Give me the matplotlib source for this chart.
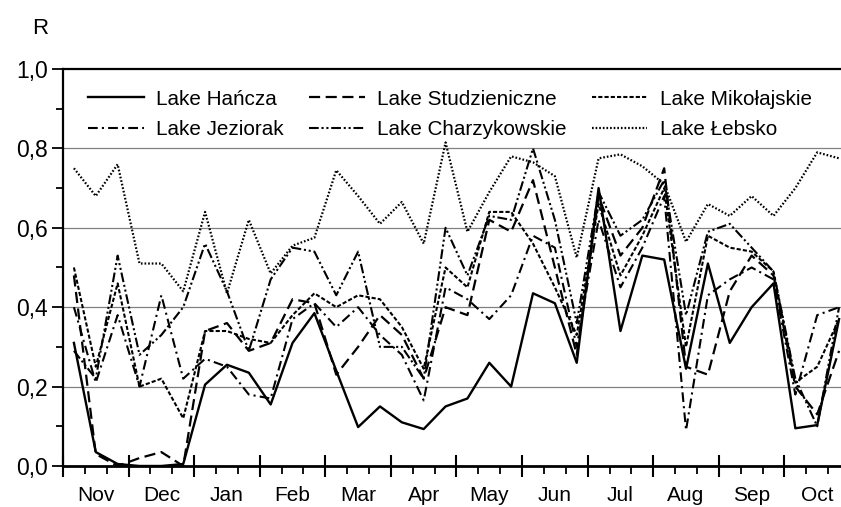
import matplotlib
matplotlib.use("Agg")
from matplotlib import pyplot as plt
from matplotlib.ticker import FixedLocator, MultipleLocator, FuncFormatter
import matplotlib.transforms as mtransforms

plt.rcParams['font.family'] = ['Liberation Sans', 'DejaVu Sans']
plt.rcParams['lines.scale_dashes'] = False

months = ["Nov", "Dec", "Jan", "Feb", "Mar", "Apr", "May", "Jun", "Jul", "Aug", "Sep", "Oct"]

# one value per 10-day period (3 per month), Nov..Oct
hancza = [0.31, 0.035, 0.005, 0.0, 0.0, 0.005, 0.205, 0.255, 0.235, 0.155, 0.31, 0.385,
          0.24, 0.098, 0.15, 0.11, 0.093, 0.15, 0.17, 0.26, 0.20, 0.435, 0.41, 0.26,
          0.70, 0.34, 0.53, 0.52, 0.245, 0.51, 0.31, 0.40, 0.46, 0.095, 0.103, 0.37]
jeziorak = [0.40, 0.21, 0.38, 0.20, 0.43, 0.22, 0.27, 0.25, 0.18, 0.17, 0.37, 0.41,
            0.35, 0.40, 0.33, 0.28, 0.165, 0.45, 0.42, 0.37, 0.43, 0.58, 0.55, 0.30,
            0.62, 0.45, 0.55, 0.68, 0.09, 0.43, 0.47, 0.50, 0.47, 0.18, 0.38, 0.40]
studzieniczne = [0.48, 0.03, 0.00, 0.02, 0.035, 0.00, 0.34, 0.36, 0.29, 0.31, 0.42, 0.41,
                 0.23, 0.30, 0.38, 0.33, 0.22, 0.40, 0.38, 0.62, 0.59, 0.72, 0.50, 0.28,
                 0.68, 0.53, 0.60, 0.75, 0.25, 0.23, 0.44, 0.53, 0.48, 0.20, 0.13, 0.29]
charzykowskie = [0.29, 0.22, 0.53, 0.28, 0.33, 0.40, 0.56, 0.44, 0.29, 0.47, 0.55, 0.54,
                 0.43, 0.54, 0.30, 0.30, 0.22, 0.60, 0.48, 0.63, 0.62, 0.80, 0.62, 0.36,
                 0.69, 0.58, 0.62, 0.72, 0.38, 0.59, 0.61, 0.55, 0.49, 0.22, 0.10, 0.40]
mikolajskie = [0.50, 0.25, 0.46, 0.20, 0.22, 0.12, 0.34, 0.34, 0.32, 0.31, 0.38, 0.435,
               0.40, 0.43, 0.42, 0.35, 0.245, 0.50, 0.45, 0.64, 0.64, 0.56, 0.45, 0.33,
               0.66, 0.48, 0.58, 0.70, 0.30, 0.58, 0.55, 0.54, 0.49, 0.21, 0.25, 0.37]
lebsko = [0.75, 0.68, 0.76, 0.51, 0.51, 0.44, 0.64, 0.435, 0.62, 0.485, 0.555, 0.575,
          0.745, 0.68, 0.61, 0.665, 0.56, 0.815, 0.59, 0.69, 0.78, 0.765, 0.73, 0.525,
          0.775, 0.785, 0.755, 0.71, 0.565, 0.66, 0.63, 0.68, 0.63, 0.70, 0.79, 0.775]

x = [i + 0.5 for i in range(len(hancza))]

fig = plt.figure(figsize=(8.41, 5.07), dpi=100)
ax = fig.add_axes([0.0749, 0.0809, 0.9358, 0.783])

ax.plot(x, hancza, '-', color='black', lw=1.7, label="Lake Hańcza")
ax.plot(x, jeziorak, color='black', lw=1.5, dashes=(7, 3, 1.5, 3), label="Lake Jeziorak")
ax.plot(x, studzieniczne, color='black', lw=1.6, dashes=(8, 4), label="Lake Studzieniczne")
ax.plot(x, charzykowskie, color='black', lw=1.5, dashes=(7, 2, 1.5, 2, 1.5, 2),
        label="Lake Charzykowskie")
ax.plot(x, mikolajskie, color='black', lw=1.5, dashes=(3, 1.5), label="Lake Mikołajskie")
ax.plot(x, lebsko, color='black', lw=1.6, dashes=(1.2, 1.4), label="Lake Łebsko")

ax.set_xlim(0, 36)
ax.set_ylim(0, 1.0)

ax.yaxis.set_major_locator(MultipleLocator(0.2))
ax.yaxis.set_minor_locator(MultipleLocator(0.1))
ax.yaxis.set_major_formatter(FuncFormatter(lambda v, p: f"{v:.1f}".replace(".", ",")))
ax.tick_params(axis='y', which='major', direction='out', length=8, width=1.3,
               labelsize=16.5, pad=3)
ax.tick_params(axis='y', which='minor', direction='out', length=5, width=1.3)

ax.xaxis.set_major_locator(FixedLocator(list(range(0, 37, 3))))
ax.xaxis.set_minor_locator(FixedLocator([i for i in range(37) if i % 3]))
ax.tick_params(axis='x', which='major', direction='inout', length=16, width=1.5,
               labelbottom=False)
ax.tick_params(axis='x', which='minor', direction='out', length=6, width=1.3)

trans = mtransforms.blended_transform_factory(ax.transData, ax.transAxes)
for i, m in enumerate(months):
    ax.text(3 * i + 1.5, -0.074, m, transform=trans, ha='center', va='center',
            fontsize=15)

for v in [0.2, 0.4, 0.6, 0.8]:
    ax.axhline(v, color='#808080', lw=0.9, zorder=0)

ax.spines['right'].set_visible(False)
ax.spines['top'].set_linewidth(1.6)
ax.spines['left'].set_linewidth(1.6)
ax.spines['bottom'].set_linewidth(2.0)

ax.legend(loc='upper left', bbox_to_anchor=(0.032, 0.948), ncol=3, frameon=False,
          fontsize=14.9, handlelength=2.7, handletextpad=0.6, columnspacing=1.2,
          labelspacing=0.55, borderaxespad=0.0, borderpad=0.0)

fig.text(40 / 841, 1 - 28 / 507, "R", ha='center', va='center', fontsize=16)

fig.savefig("out.png", dpi=100)
